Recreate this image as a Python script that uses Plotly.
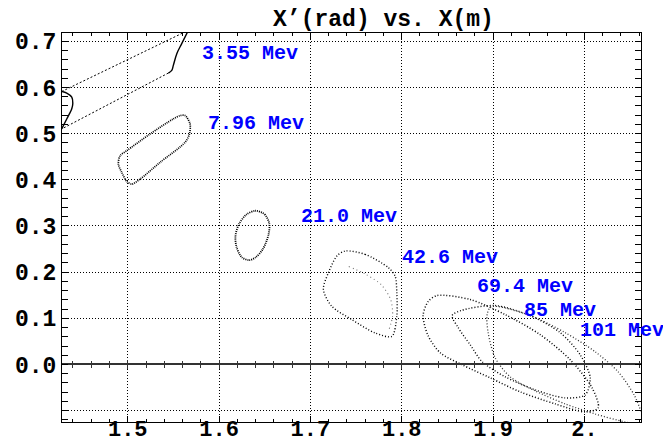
import plotly.graph_objects as go

# ---------------- data ----------------
x_ticks = [1.5, 1.6, 1.7, 1.8, 1.9, 2.0]
x_tick_text = ["1.5", "1.6", "1.7", "1.8", "1.9", "2."]
y_ticks = [-0.1, 0.0, 0.1, 0.2, 0.3, 0.4, 0.5, 0.6, 0.7]
y_tick_text = ["", "0.0", "0.1", "0.2", "0.3", "0.4", "0.5", "0.6", "0.7"]

# 3.55 MeV : two straight dashed edges + two solid curved edges
e355_lines_x = [1.4277, 1.5664, None, 1.5445, 1.4277]
e355_lines_y = [0.5913, 0.7239, None, 0.6313, 0.5102]
e355_curves_x = [1.5664, 1.5591, 1.5537, 1.5499, 1.5482, 1.5445, None,
                 1.4277, 1.4332, 1.4387, 1.4398, 1.4387, 1.4332, 1.4277]
e355_curves_y = [0.7239, 0.6950, 0.6733, 0.6478, 0.6370, 0.6313, None,
                 0.5102, 0.5317, 0.5537, 0.5646, 0.5791, 0.5878, 0.5913]

# 7.96 MeV outline
e796_x = [1.5628, 1.5682, 1.5675, 1.5628, 1.5354, 1.5135, 1.5044, 1.4989,
          1.4934, 1.4897, 1.4916, 1.4989, 1.5244, 1.5499, 1.5573, 1.5628]
e796_y = [0.5391, 0.5211, 0.4993, 0.4813, 0.4378, 0.4015, 0.3907, 0.3965,
          0.4161, 0.4341, 0.4522, 0.4630, 0.4993, 0.5320, 0.5391, 0.5391]

# 21.0 MeV outline
e210_x = [1.640, 1.650, 1.655, 1.654, 1.648, 1.640, 1.633, 1.625, 1.619,
          1.618, 1.622, 1.630, 1.640]
e210_y = [0.333, 0.325, 0.305, 0.280, 0.250, 0.232, 0.226, 0.232, 0.255,
          0.280, 0.305, 0.325, 0.333]

# 42.6 MeV outline + inner arc
e426_x = [1.7380, 1.7600, 1.7854, 1.7928, 1.7946, 1.7946, 1.7892, 1.7709,
          1.7453, 1.7234, 1.7142, 1.7197, 1.7289, 1.7380]
e426_y = [0.2457, 0.2385, 0.2096, 0.1913, 0.1552, 0.1043, 0.0609, 0.0683,
          0.0972, 0.1261, 0.1624, 0.1987, 0.2348, 0.2457]
e426_in_x = [1.742, 1.760, 1.778, 1.788, 1.790, 1.786]
e426_in_y = [0.212, 0.196, 0.172, 0.140, 0.105, 0.075]

# 69.4 MeV outline
e694_x = [1.8388, 1.8749, 1.9133, 1.9516, 1.9845, 2.0085, 2.0151, 2.0009,
          1.9680, 1.9297, 1.8968, 1.8662, 1.8421, 1.8289, 1.8234, 1.8289, 1.8388]
e694_y = [0.1493, 0.1407, 0.1080, 0.0646, 0.0102, -0.0507, -0.0941, -0.1028,
          -0.0854, -0.0593, -0.0289, -0.0007, 0.0254, 0.0624, 0.1059, 0.1363, 0.1493]

# 85 MeV outline
e85_x = [1.8651, 1.9023, 1.9406, 1.9735, 1.9954, 2.0064, 2.0009, 1.9790,
         1.9461, 1.9133, 1.8881, 1.8749, 1.8618, 1.8552, 1.8651]
e85_y = [0.1170, 0.1276, 0.1059, 0.0689, 0.0211, -0.0289, -0.0659, -0.0724,
         -0.0550, -0.0267, 0.0059, 0.0428, 0.0798, 0.1059, 0.1170]

# 101 MeV outline
e101_x = [1.8979, 1.9406, 1.9790, 2.0118, 2.0370, 2.0545, 2.0622, 2.0666,
          2.0447, 2.0118, 1.9790, 1.9461, 1.9187, 1.9023, 1.8946, 1.8935, 1.8979]
e101_y = [0.1254, 0.1059, 0.0689, 0.0276, -0.0159, -0.0659, -0.1028, -0.1311,
          -0.1246, -0.1072, -0.0854, -0.0572, -0.0267, 0.0146, 0.0689, 0.1080, 0.1254]

labels = ["3.55 Mev", "7.96 Mev", "21.0 Mev", "42.6 Mev", "69.4 Mev", "85 Mev", "101 Mev"]
label_x = [1.5790, 1.586, 1.688, 1.798, 1.880, 1.932, 1.9935]
label_y = [0.673, 0.521, 0.321, 0.232, 0.168, 0.116, 0.073]

x_range = [1.428, 2.062]
y_range = [-0.1246, 0.718]

# ---------------- figure ----------------
MONO = "Liberation Mono"
fig = go.Figure()

def outline(xs, ys, dash="1px,2px", width=1.2, color="black"):
    fig.add_trace(go.Scatter(x=xs, y=ys, mode="lines", showlegend=False,
                             line=dict(color=color, width=width, dash=dash,
                                       shape="spline", smoothing=0.8),
                             hoverinfo="skip"))

fig.add_trace(go.Scatter(x=e355_lines_x, y=e355_lines_y, mode="lines",
                         line=dict(color="black", width=1, dash="2px,2px"),
                         showlegend=False, hoverinfo="skip"))
fig.add_trace(go.Scatter(x=e355_curves_x, y=e355_curves_y, mode="lines",
                         line=dict(color="black", width=1.4, shape="spline"),
                         showlegend=False, hoverinfo="skip"))
outline(e796_x, e796_y, dash="1px,1px", width=1.7)
outline(e210_x, e210_y, dash="1px,1px", width=1.8)
outline(e426_x, e426_y, dash="1px,2px", width=1.4)
outline(e426_in_x, e426_in_y, dash="1px,3px", width=1.1, color="#777")
outline(e694_x, e694_y, dash="1px,2px", width=1.5)
outline(e85_x, e85_y, dash="1px,2px", width=1.4)
outline(e101_x, e101_y, dash="1px,2px", width=1.3, color="#333")

# dummy traces so the zero-line axes render
fig.add_trace(go.Scatter(x=[None], y=[None], xaxis="x2", showlegend=False))
fig.add_trace(go.Scatter(x=[None], y=[None], xaxis="x3", showlegend=False))

for t, xx, yy in zip(labels, label_x, label_y):
    fig.add_annotation(x=xx, y=yy, text=t, showarrow=False, xanchor="left",
                       yanchor="middle",
                       font=dict(family=MONO, size=20, color="#0000ff", weight="bold"))

zero_pos = (0 - y_range[0]) / (y_range[1] - y_range[0])

axis_common = dict(showline=True, linecolor="black", linewidth=1,
                   ticks="inside", tickcolor="black", tickwidth=1, ticklen=6,
                   mirror="allticks", zeroline=False, automargin=False,
                   showgrid=True, gridcolor="black", gridwidth=1, griddash="1px,2px",
                   tickfont=dict(family=MONO, size=23, color="black", weight="bold"))

fig.update_layout(
    width=663, height=446,
    margin=dict(l=62, r=22, t=33, b=24),
    plot_bgcolor="white", paper_bgcolor="white",
    title=dict(text="X’(rad) vs. X(m)", x=383.5 / 663, xanchor="center",
               xref="container", y=1 - 17.5 / 446, yanchor="middle", yref="container",
               automargin=False,
               font=dict(family=MONO, size=23, color="black", weight="bold")),
    xaxis=dict(range=x_range, tickvals=x_ticks, ticktext=x_tick_text,
               ticklabelstandoff=-13,
               minor=dict(dtick=0.02, tick0=1.5, ticks="inside", ticklen=3,
                          tickcolor="black", showgrid=False),
               **{**axis_common,
                  "tickfont": dict(family=MONO, size=22, color="black", weight="bold")}),
    yaxis=dict(range=y_range, tickvals=y_ticks, ticktext=y_tick_text,
               minor=dict(dtick=0.02, tick0=0, ticks="inside", ticklen=3,
                          tickcolor="black", showgrid=False),
               **axis_common),
    xaxis2=dict(overlaying="x", matches="x", anchor="free", position=zero_pos,
                showline=True, linecolor="#333", linewidth=1.5, ticks="inside",
                ticklen=4, tickcolor="#333", tickvals=x_ticks, automargin=False,
                showticklabels=False, showgrid=False, zeroline=False,
                minor=dict(dtick=0.02, tick0=1.5, ticks="inside", ticklen=3,
                           tickcolor="#333", showgrid=False)),
    xaxis3=dict(overlaying="x", matches="x", anchor="free", position=zero_pos,
                showline=False, ticks="outside", automargin=False,
                ticklen=4, tickcolor="#333", tickvals=x_ticks,
                showticklabels=False, showgrid=False, zeroline=False,
                minor=dict(dtick=0.02, tick0=1.5, ticks="outside", ticklen=3,
                           tickcolor="#333", showgrid=False)),
)

fig.write_html("out.html")
